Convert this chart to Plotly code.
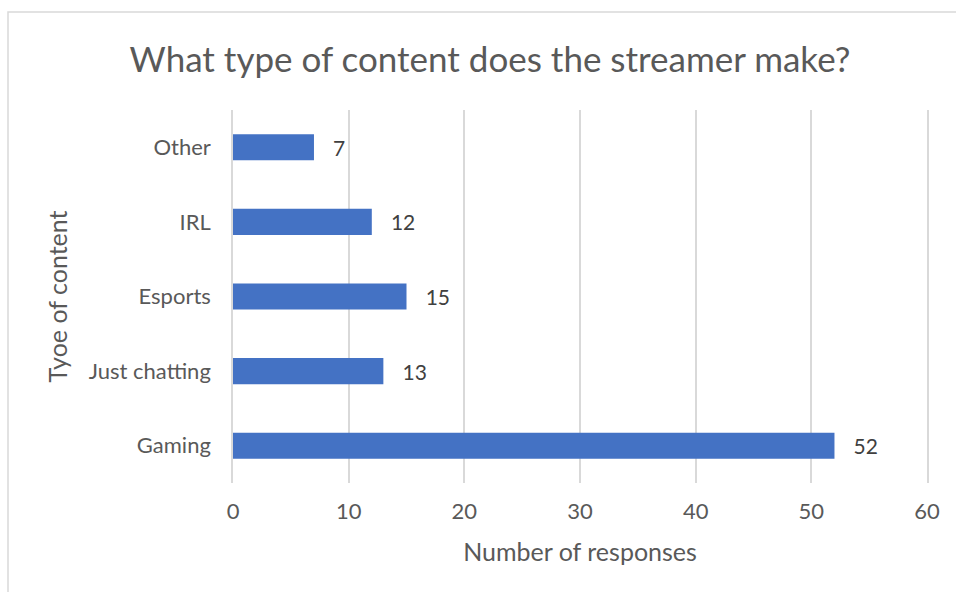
import plotly.graph_objects as go

# Survey results: content type of the streamer
categories = ["Gaming", "Just chatting", "Esports", "IRL", "Other"]
responses = [52, 13, 15, 12, 7]
x_ticks = [0, 10, 20, 30, 40, 50, 60]

W, H = 956, 592
ML, MR, MT, MB = 233, 29, 110, 109
pw, ph = W - ML - MR, H - MT - MB

FONT = "Lato, 'Open Sans', sans-serif"
BAR = "#4472C4"
GRID = "#D9D9D9"
PAD = "\u00a0" * 3

fig = go.Figure(
    go.Bar(
        y=categories,
        x=responses,
        orientation="h",
        marker=dict(color=BAR, line=dict(width=0)),
        text=[PAD + str(v) for v in responses],
        textposition="outside",
        textfont=dict(family=FONT, size=21, color="#404040"),
        cliponaxis=False,
        width=0.35,
    )
)

fig.update_layout(
    width=W,
    height=H,
    margin=dict(l=ML, r=MR, t=MT, b=MB),
    paper_bgcolor="white",
    plot_bgcolor="white",
    showlegend=False,
    title=dict(
        text="What type of content does the streamer make?",
        x=490 / W,
        xanchor="center",
        y=1 - 60 / H,
        yanchor="middle",
        font=dict(family=FONT, size=35, color="#595959"),
    ),
    xaxis=dict(
        range=[0, 60],
        tickvals=x_ticks,
        ticktext=[str(t) for t in x_ticks],
        showgrid=True,
        gridcolor=GRID,
        gridwidth=1.5,
        zeroline=False,
        showline=False,
        ticks="",
        tickfont=dict(family=FONT, size=22, color="#595959"),
        ticklabelstandoff=13,
        title=dict(
            text="Number of responses",
            font=dict(family=FONT, size=25, color="#595959"),
            standoff=20,
        ),
    ),
    yaxis=dict(
        categoryorder="array",
        categoryarray=categories,
        showgrid=False,
        zeroline=False,
        # left/right lines act as the gridlines at 0 and 60
        showline=True,
        mirror=True,
        linecolor=GRID,
        linewidth=1.5,
        ticks="",
        tickfont=dict(family=FONT, size=22, color="#595959"),
        ticklabelstandoff=16,
        title=dict(
            text="Tyoe of content",
            font=dict(family=FONT, size=25, color="#595959"),
            standoff=14,
        ),
    ),
    shapes=[
        # light chart-area border (left and top edges visible)
        dict(
            type="rect",
            xref="paper",
            yref="paper",
            x0=(8 - ML) / pw,
            x1=(W + 20 - ML) / pw,
            y0=-(H + 20 - (MT + ph)) / ph,
            y1=(MT + ph - 12) / ph,
            line=dict(color=GRID, width=1.5),
            fillcolor="rgba(0,0,0,0)",
            layer="below",
        )
    ],
)

fig.write_html("out.html")
